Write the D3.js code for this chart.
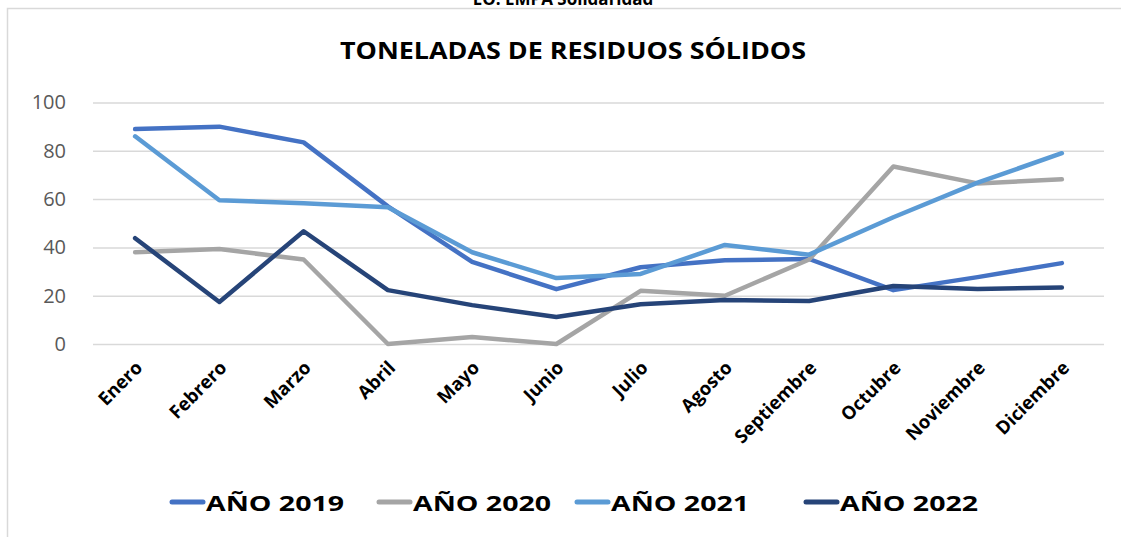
<!DOCTYPE html>
<html>
<head>
<meta charset="utf-8">
<script src="https://cdn.jsdelivr.net/npm/d3@7"></script>
<style>
  html, body { margin: 0; padding: 0; background: #fff; overflow: hidden; }
  svg { display: block; }
</style>
</head>
<body>
<svg id="chart" width="1121" height="537"></svg>
<script>
// Monthly tonnage of solid waste, one series per year
const months = ["Enero", "Febrero", "Marzo", "Abril", "Mayo", "Junio", "Julio",
  "Agosto", "Septiembre", "Octubre", "Noviembre", "Diciembre"];
const years = ["AÑO 2019", "AÑO 2020", "AÑO 2021", "AÑO 2022"];
const values2019 = [89, 90, 83.5, 57, 34, 22.7, 31.8, 34.7, 35.2, 22.3, 27.7, 33.5];
const values2020 = [38, 39.3, 35, 0, 2.9, 0, 22, 20, 35, 73.5, 66.5, 68.2];
const values2021 = [86, 59.5, 58.3, 56.6, 38, 27.3, 29, 41, 37, 52.5, 66.8, 79];
const values2022 = [43.8, 17.4, 46.7, 22.3, 16.1, 11.2, 16.5, 18.2, 17.8, 24, 22.8, 23.4];
const yTicks = [0, 20, 40, 60, 80, 100];
const colors = ["#4472C4", "#A5A5A5", "#5B9BD5", "#264478"];

const seriesList = [values2019, values2020, values2021, values2022];

const svg = d3.select("#chart");
const font = "'Open Sans', 'Liberation Sans', sans-serif";

// Chart frame: only the left and top edges fall inside the view
svg.append("path")
  .attr("d", "M7.5,537 V8.5 H1121")
  .attr("fill", "none")
  .attr("stroke", "#d9d9d9").attr("stroke-width", 1.5);

// Caption above the frame, mostly out of view
svg.append("text")
  .attr("x", 563).attr("y", 5)
  .attr("text-anchor", "middle")
  .attr("font-family", font).attr("font-weight", "bold")
  .attr("font-size", 17).attr("fill", "#000")
  .text("EO. EMPA Solidaridad");

// Title
svg.append("text")
  .attr("x", 573).attr("y", 59)
  .attr("text-anchor", "middle")
  .attr("font-family", font).attr("font-weight", "bold")
  .attr("font-size", 22.5).attr("fill", "#000")
  .attr("textLength", 466).attr("lengthAdjust", "spacingAndGlyphs")
  .text("TONELADAS DE RESIDUOS SÓLIDOS");

const plotLeft = 93, plotRight = 1104, plotTop = 102.5, plotBottom = 344;

const x = d3.scalePoint().domain(months).range([plotLeft, plotRight]).padding(0.5);
const y = d3.scaleLinear().domain([0, 100]).range([plotBottom, plotTop]);

// Gridlines + y labels
const yAxis = d3.axisLeft(y).tickValues(yTicks)
  .tickSize(-(plotRight - plotLeft)).tickPadding(27);
const gy = svg.append("g").attr("transform", `translate(${plotLeft},0)`).call(yAxis);
gy.select(".domain").remove();
gy.selectAll(".tick line").attr("stroke", "#d9d9d9").attr("stroke-width", 1.5);
gy.selectAll(".tick text")
  .attr("font-family", font).attr("font-size", 20)
  .attr("fill", "#595959");

// X axis labels, rotated
const xAxis = d3.axisBottom(x).tickSize(0).tickPadding(0);
const gx = svg.append("g").attr("transform", `translate(0,${plotBottom})`).call(xAxis);
gx.select(".domain").remove();
gx.selectAll(".tick text")
  .attr("font-family", font).attr("font-weight", "bold").attr("font-size", 18.5)
  .attr("fill", "#000")
  .attr("text-anchor", "end")
  .attr("dy", 0)
  .attr("transform", "translate(8,25) rotate(-45)");

// Lines
const line = d3.line()
  .x((d, i) => x(months[i]))
  .y(d => y(d));

seriesList.forEach((vals, k) => {
  svg.append("path")
    .datum(vals)
    .attr("fill", "none")
    .attr("stroke", colors[k])
    .attr("stroke-width", 4.5)
    .attr("stroke-linejoin", "round")
    .attr("stroke-linecap", "round")
    .attr("d", line);
});

// Legend
const legendX = [170, 377, 575, 804];
const legend = svg.append("g");
years.forEach((name, k) => {
  const g = legend.append("g").attr("transform", `translate(${legendX[k]},502)`);
  g.append("line")
    .attr("x1", 2).attr("x2", 33).attr("y1", 0).attr("y2", 0)
    .attr("stroke", colors[k]).attr("stroke-width", 5)
    .attr("stroke-linecap", "round");
  g.append("text")
    .attr("x", 36).attr("y", 9)
    .attr("font-family", font).attr("font-weight", "bold")
    .attr("font-size", 22).attr("fill", "#000")
    .attr("textLength", 138).attr("lengthAdjust", "spacingAndGlyphs")
    .text(name);
});
</script>
</body>
</html>
